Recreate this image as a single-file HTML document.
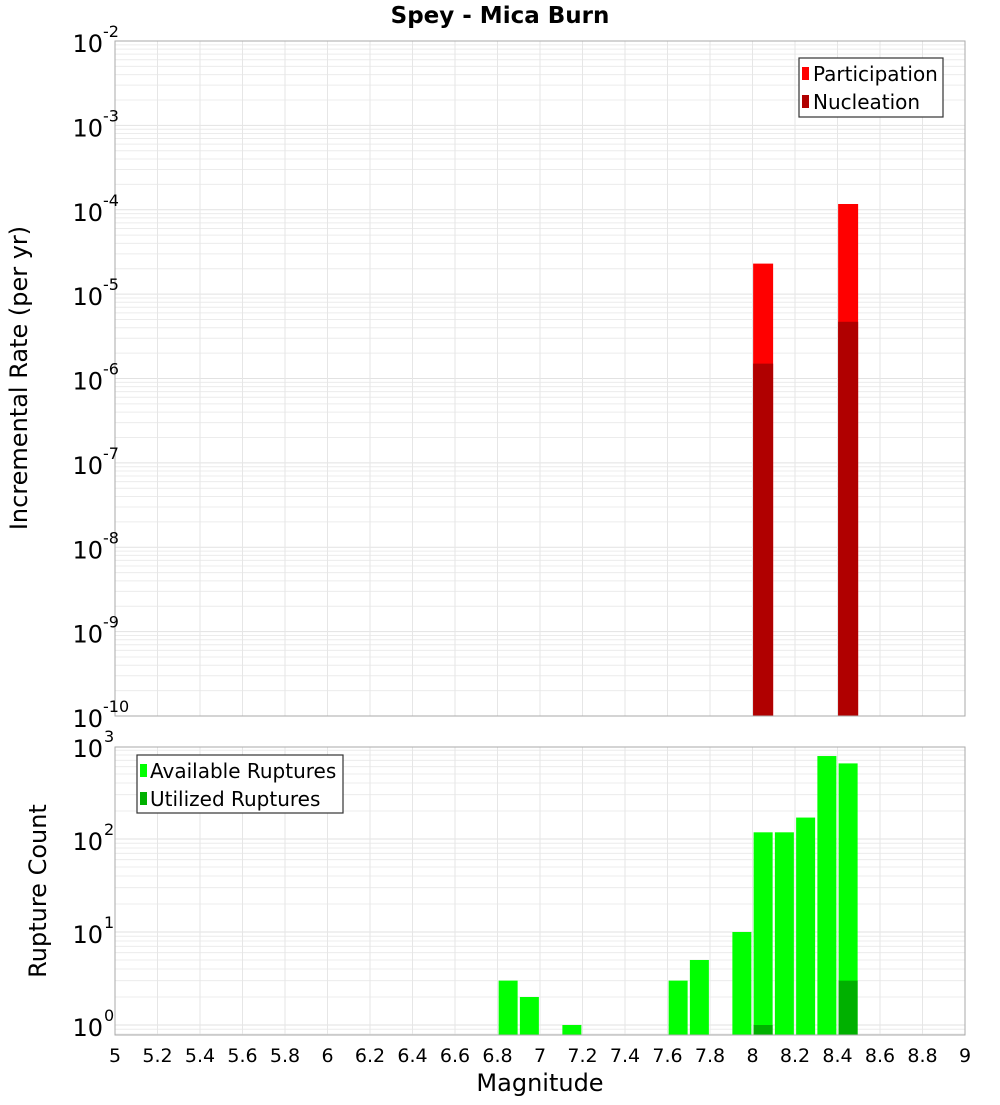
<!DOCTYPE html>
<html><head><meta charset="utf-8"><style>
body{margin:0;background:#fff;}
svg text{font-family:"DejaVu Sans","Liberation Sans",sans-serif;}
</style></head><body>
<svg id="chart" width="1000" height="1100" xmlns="http://www.w3.org/2000/svg">
<text x="500" y="23" text-anchor="middle" font-size="23" font-weight="bold">Spey - Mica Burn</text>
<g id="topPanel"></g>
<g id="botPanel"></g>
<text transform="translate(27,378) rotate(-90)" text-anchor="middle" font-size="24">Incremental Rate (per yr)</text>
<text transform="translate(46,891) rotate(-90)" text-anchor="middle" font-size="24">Rupture Count</text>
<text x="540" y="1091" text-anchor="middle" font-size="24">Magnitude</text>
<g>
<rect x="799" y="58" width="144" height="59" fill="#fff" stroke="#333" stroke-width="1.2"/>
<rect x="802" y="67" width="7" height="13" fill="#ff0000"/>
<text x="813" y="81" font-size="20">Participation</text>
<rect x="802" y="95" width="7" height="13" fill="#b00000"/>
<text x="813" y="109" font-size="20">Nucleation</text>
</g>
<g>
<rect x="137" y="755" width="206" height="58" fill="#fff" stroke="#333" stroke-width="1.2"/>
<rect x="140" y="764" width="7" height="13" fill="#00ff00"/>
<text x="150" y="778" font-size="20">Available Ruptures</text>
<rect x="140" y="792" width="7" height="13" fill="#00b000"/>
<text x="150" y="806" font-size="20">Utilized Ruptures</text>
</g>
</svg>
<script>
const rateMags=[8.05,8.45];
const participation=[2.3e-5,1.17e-4];
const nucleation=[1.5e-6,4.7e-6];
const countMags=[6.85,6.95,7.15,7.65,7.75,7.95,8.05,8.15,8.25,8.35,8.45];
const available=[3,2,1,3,5,10,118,118,170,780,650];
const utilMags=[8.05,8.45];
const utilized=[1,3];
const xTicks=[5,5.2,5.4,5.6,5.8,6,6.2,6.4,6.6,6.8,7,7.2,7.4,7.6,7.8,8,8.2,8.4,8.6,8.8,9];
const rateExps=[-2,-3,-4,-5,-6,-7,-8,-9,-10];
const countExps=[3,2,1,0];

const NS='http://www.w3.org/2000/svg';
const X0=115,X1=965;
const xs=m=>X0+(m-5)/4*(X1-X0);
function yTop(v){return 41+(-2-Math.log10(v))*84.375;}
function yBot(v){return 1025-Math.log10(v)*93;}
function el(p,t,a){const e=document.createElementNS(NS,t);for(const k in a)e.setAttribute(k,a[k]);p.appendChild(e);return e;}
function panel(g,t0,b0,yf,lo,hi,name){
  el(g,'rect',{x:X0,y:t0,width:X1-X0,height:b0-t0,fill:'#fff'});
  for(let e=lo;e<hi;e++)for(let k=1;k<10;k++){const yy=yf(k*Math.pow(10,e));if(yy<t0||yy>b0)continue;
    const l=el(g,'line',{x1:X0,x2:X1,y1:yy,y2:yy,stroke:k==1?'#e2e2e2':'#ececec','stroke-width':1});
    
    }
  xTicks.forEach(t=>{const l=el(g,'line',{x1:xs(t),x2:xs(t),y1:t0,y2:b0,stroke:'#e6e6e6'});
    
    });
}
function bar(g,m,v,yf,b0,fill,name,w){const yy=yf(v);const r=el(g,'rect',{x:xs(m)-w/2,y:yy,width:w,height:b0-yy,fill:fill});
  
  }
const topG=document.getElementById('topPanel'),botG=document.getElementById('botPanel');
panel(topG,41,716,yTop,-10,-2,'rate');
participation.forEach((v,i)=>bar(topG,rateMags[i],v,yTop,716,'#ff0000','participation-bar',20));
nucleation.forEach((v,i)=>bar(topG,rateMags[i],v,yTop,716,'#b00000','nucleation-bar',20));
el(topG,'rect',{x:X0,y:41,width:X1-X0,height:675,fill:'none',stroke:'#aaa'});
rateExps.forEach(e=>{const yy=yTop(Math.pow(10,e));const t=el(topG,'text',{x:103,y:yy+11,'text-anchor':'end','font-size':24});
  
  
  t.textContent='10';const s=el(topG,'text',{x:103,y:yy-4,'font-size':16});s.textContent=String(e);
  
  });
panel(botG,747,1035,yBot,-1,3,'count');
available.forEach((v,i)=>bar(botG,countMags[i],v,yBot,1035,'#00ff00','available-bar',19));
utilized.forEach((v,i)=>bar(botG,utilMags[i],v,yBot,1035,'#00b000','utilized-bar',19));
el(botG,'rect',{x:X0,y:747,width:X1-X0,height:288,fill:'none',stroke:'#aaa'});
countExps.forEach(e=>{const yy=yBot(Math.pow(10,e));const t=el(botG,'text',{x:103,y:yy+11,'text-anchor':'end','font-size':24});
  
  
  t.textContent='10';const s=el(botG,'text',{x:104,y:yy-4,'font-size':16});s.textContent=String(e);
  
  });
xTicks.forEach(t=>{const tx=el(botG,'text',{x:xs(t),y:1062,'text-anchor':'middle','font-size':19});tx.textContent=String(t);
  
  });
</script>
</body></html>
